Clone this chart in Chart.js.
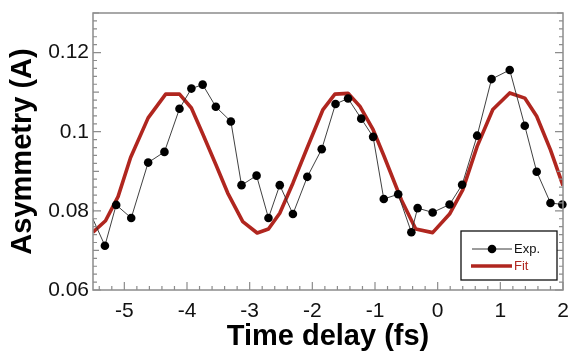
<!DOCTYPE html>
<html>
<head>
<meta charset="utf-8">
<script src="https://cdn.jsdelivr.net/npm/chart.js@4"></script>
<style>
body{margin:0;background:#fff}
#wrap{width:571px;height:351px}
</style>
</head>
<body>
<div id="wrap"><canvas id="asymChart" width="571" height="351"></canvas></div>
<script>

// DATA

const expX = [-5.56,-5.31,-5.13,-4.89,-4.62,-4.36,-4.12,-3.93,-3.75,-3.54,-3.30,-3.13,-2.89,-2.70,-2.52,-2.31,-2.08,-1.85,-1.63,-1.43,-1.22,-1.03,-0.86,-0.63,-0.42,-0.32,-0.08,0.19,0.39,0.63,0.86,1.15,1.39,1.58,1.80,1.99]
const expY = [0.080,0.0712,0.0815,0.0782,0.0922,0.0949,0.1058,0.1109,0.1119,0.1063,0.1026,0.0865,0.0889,0.0782,0.0865,0.0792,0.0886,0.0956,0.1070,0.1084,0.1033,0.0987,0.0830,0.0842,0.0746,0.0807,0.0796,0.0816,0.0866,0.0990,0.1133,0.1156,0.1015,0.0899,0.0820,0.0816]

const fitX = [-5.5,-5.30,-5.10,-4.90,-4.62,-4.34,-4.12,-3.93,-3.75,-3.54,-3.35,-3.11,-2.88,-2.70,-2.52,-2.31,-2.08,-1.83,-1.64,-1.43,-1.24,-1.03,-0.86,-0.58,-0.35,-0.08,0.19,0.40,0.63,0.88,1.15,1.39,1.58,1.80,2.0]
const fitY = [0.0746,0.0775,0.0836,0.0935,0.1035,0.1095,0.1095,0.1060,0.0995,0.0917,0.0845,0.0773,0.0744,0.0754,0.0794,0.0870,0.0960,0.1056,0.1095,0.1097,0.1064,0.1005,0.0940,0.0828,0.0754,0.0745,0.0792,0.0853,0.0963,0.1056,0.1098,0.1085,0.1039,0.0954,0.0864]

const xTicks = [-5,-4,-3,-2,-1,0,1,2]
const yTicks = [0.06,0.08,0.1,0.12]

const seriesNames = ['Exp.','Fit']

const fitColor = '#b0261f'
const frameColor = '#8c8c8c'


// FRAME, INWARD TICKS AND LEGEND

const framePlugin = {
id:'frame',
afterDraw(chart){
let c = chart.ctx
let a = chart.chartArea
let xs = chart.scales.x
let ys = chart.scales.y

c.save()
c.strokeStyle = frameColor
c.lineWidth = 1.2

c.beginPath()
for(let i=-27;i<=10;i++){
let px = xs.getPixelForValue(i*0.2)
let len = (i%5===0) ? 8 : 4
c.moveTo(px,a.bottom)
c.lineTo(px,a.bottom-len)
}
for(let j=30;j<=65;j++){
let py = ys.getPixelForValue(j*0.002)
let len = (j%10===0) ? 8 : (j%5===0 ? 6 : 4)
c.moveTo(a.left,py)
c.lineTo(a.left+len,py)
c.moveTo(a.right,py)
c.lineTo(a.right-len,py)
}
c.stroke()

c.lineWidth = 1.5
c.strokeRect(a.left,a.top,a.right-a.left,a.bottom-a.top)

// legend box
let bx = a.right-102
let by = a.bottom-59
c.fillStyle = '#fff'
c.fillRect(bx,by,96,49)
c.strokeStyle = '#111'
c.lineWidth = 1.3
c.strokeRect(bx,by,96,49)

c.strokeStyle = '#222'
c.lineWidth = 0.9
c.beginPath()
c.moveTo(bx+11,by+18)
c.lineTo(bx+51,by+18)
c.stroke()
c.fillStyle = '#000'
c.beginPath()
c.arc(bx+31,by+18,4.3,0,Math.PI*2)
c.fill()

c.strokeStyle = fitColor
c.lineWidth = 3.5
c.beginPath()
c.moveTo(bx+10,by+35)
c.lineTo(bx+51,by+35)
c.stroke()

c.font = '13px "Liberation Sans", Arial, sans-serif'
c.textBaseline = 'middle'
c.textAlign = 'left'
c.fillStyle = '#111'
c.fillText(seriesNames[0],bx+53,by+18)
c.fillStyle = fitColor
c.fillText(seriesNames[1],bx+53,by+35)

c.restore()
}
}


// CHART

const ctx = document.getElementById('asymChart')

new Chart(ctx, {

type:'scatter',

data:{

datasets:[{

label:seriesNames[0],

data:expX.map((v,i)=>({x:v,y:expY[i]})),

showLine:true,
borderColor:'#2a2a2a',
borderWidth:0.9,
pointRadius:4.3,
pointBackgroundColor:'#000',
pointBorderColor:'#000',
pointBorderWidth:0,
clip:{left:0,top:false,right:false,bottom:false}

},{

label:seriesNames[1],

data:fitX.map((v,i)=>({x:v,y:fitY[i]})),

showLine:true,
borderColor:fitColor,
borderWidth:3.6,
pointRadius:0,
borderJoinStyle:'round'

}]

},

options:{

responsive:false,
animation:false,
layout:{padding:{top:13,right:8,left:0,bottom:0}},

plugins:{
legend:{display:false},
tooltip:{enabled:false}
},

scales:{

x:{
type:'linear',
min:-5.5,
max:2,
afterBuildTicks:(s)=>{ s.ticks = xTicks.map(v=>({value:v})) },
afterFit:(s)=>{ s.height = 61; s.paddingLeft = 0; s.paddingRight = 0 },
grid:{display:false,drawTicks:false},
border:{display:false},
ticks:{
padding:9,
color:'#111',
font:{family:'"Liberation Sans", Arial, sans-serif',size:21},
callback:(v)=>String(v)
},
title:{
display:true,
text:'Time delay (fs)',
color:'#000',
padding:{top:0,bottom:0},
font:{family:'"Liberation Sans", Arial, sans-serif',size:29,weight:'bold',lineHeight:1}
}
},

y:{
min:0.06,
max:0.13,
afterBuildTicks:(s)=>{ s.ticks = yTicks.map(v=>({value:v})) },
afterFit:(s)=>{ s.width = 93; s.paddingTop = 0; s.paddingBottom = 0 },
grid:{display:false,drawTicks:false},
border:{display:false},
ticks:{
padding:4,
color:'#111',
font:{family:'"Liberation Sans", Arial, sans-serif',size:21},
callback:(v)=>String(v)
},
title:{
display:true,
text:'Asymmetry (A)',
color:'#000',
padding:{top:8,bottom:0},
font:{family:'"Liberation Sans", Arial, sans-serif',size:29,weight:'bold',lineHeight:1}
}
}

}

},

plugins:[framePlugin]

})

</script>
</body>
</html>
